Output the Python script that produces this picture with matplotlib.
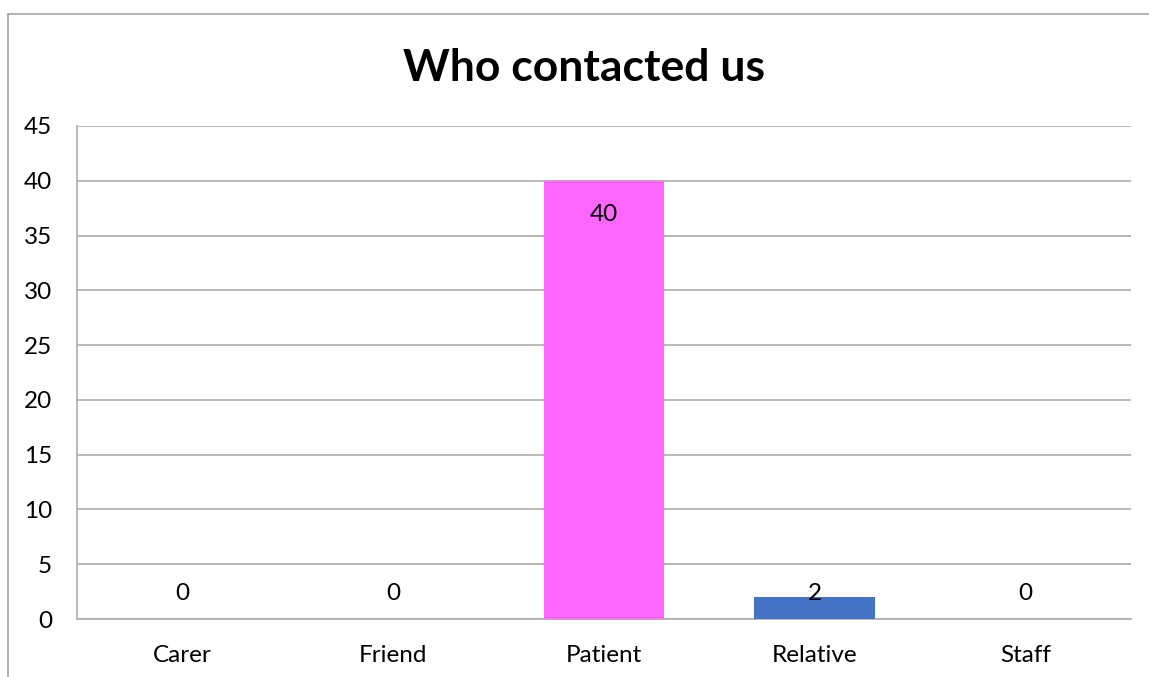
import matplotlib
matplotlib.use("Agg")
import matplotlib.pyplot as plt
from matplotlib.lines import Line2D

categories = ["Carer", "Friend", "Patient", "Relative", "Staff"]
values = [0, 0, 40, 2, 0]
bar_colors = ["#4472C4", "#4472C4", "#FF66FF", "#4472C4", "#4472C4"]
yticks = [0, 5, 10, 15, 20, 25, 30, 35, 40, 45]

plt.rcParams['font.family'] = ['Lato', 'DejaVu Sans']

W, H = 1149, 677
fig = plt.figure(figsize=(W/100, H/100), dpi=100)
L, R, T, B = 77, 1131, 126, 619
ax = fig.add_axes([L/W, 1 - B/H, (R-L)/W, (B-T)/H])

FS = 17.5
x = list(range(len(categories)))
ax.bar(x, values, width=0.574, color=bar_colors, zorder=3)
ax.set_xlim(-0.5, len(categories) - 0.5)
ax.set_ylim(0, 45)
ax.set_yticks(yticks)
ax.set_xticks(x)
ax.set_xticklabels(categories, fontsize=FS)
ax.tick_params(axis='both', length=0, labelsize=FS, colors='black')
ax.tick_params(axis='y', pad=18)
ax.tick_params(axis='x', pad=19)
ax.grid(axis='y', color='#ADADAD', linewidth=1.2, zorder=0)
for s in ['top', 'right']:
    ax.spines[s].set_visible(False)
for s in ['left', 'bottom']:
    ax.spines[s].set_color('#ADADAD')
    ax.spines[s].set_linewidth(1.2)

for xi, v in zip(x, values):
    if v > 10:
        ypos = v - 3.1
    else:
        ypos = 2.3
    ax.text(xi, ypos, str(v), ha='center', va='center', fontsize=FS, zorder=4)

fig.text(584/W, 1 - 68/H, "Who contacted us", ha='center', va='center',
         fontsize=32, fontweight='bold')

fig.add_artist(Line2D([8/W, 8/W], [0, 1 - 14/H], color='#A6A6A6', linewidth=1.2))
fig.add_artist(Line2D([8/W, 1], [1 - 14/H, 1 - 14/H], color='#A6A6A6', linewidth=1.2))

fig.savefig("out.png", dpi=100)
